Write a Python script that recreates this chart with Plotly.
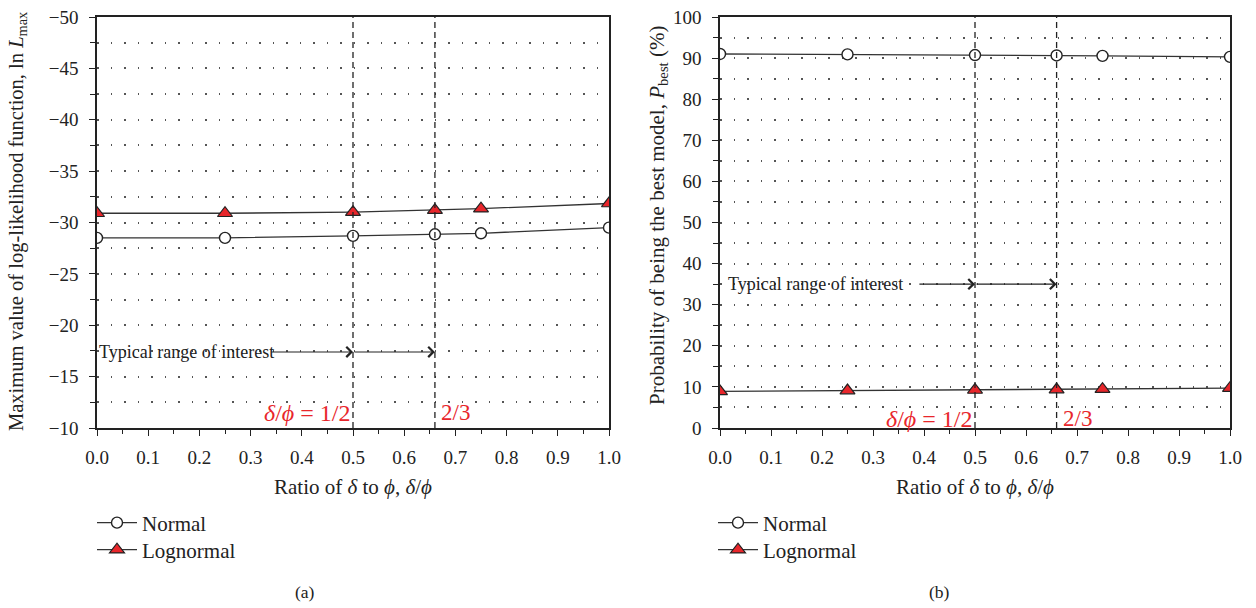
import plotly.graph_objects as go

# ---------------- data ----------------
ratio = [0.0, 0.25, 0.5, 0.66, 0.75, 1.0]
lnL_normal = [-28.5, -28.5, -28.7, -28.85, -28.95, -29.5]
lnL_lognormal = [-30.9, -30.9, -31.0, -31.2, -31.35, -31.85]
p_normal = [91.0, 90.9, 90.75, 90.65, 90.55, 90.3]
p_lognormal = [8.9, 9.1, 9.25, 9.35, 9.45, 9.7]
x_ticks = [0.0, 0.1, 0.2, 0.3, 0.4, 0.5, 0.6, 0.7, 0.8, 0.9, 1.0]
ref_lines = [0.5, 0.66]

W, H = 1256, 608
FONT = "Liberation Serif"
RED = "#e8262b"
LINE = "#333333"
TXT = "#222222"

def px(x):
    return x / W

def py(y):
    return 1 - y / H

fig = go.Figure()

def add_series(xa, ya, yn, yl, leg_n, leg_l):
    fig.add_trace(go.Scatter(
        x=ratio, y=yn, mode="lines+markers", name="Normal",
        xaxis=xa, yaxis=ya, legend=leg_n,
        line=dict(color=LINE, width=1.3),
        marker=dict(symbol="circle", size=11, color="white",
                    line=dict(color=TXT, width=1.4)),
    ))
    fig.add_trace(go.Scatter(
        x=ratio, y=yl, mode="lines+markers", name="Lognormal",
        xaxis=xa, yaxis=ya, legend=leg_l,
        line=dict(color=LINE, width=1.3),
        marker=dict(symbol="triangle-up", size=13, color=RED,
                    line=dict(color=TXT, width=1.2)),
    ))

add_series("x", "y", lnL_normal, lnL_lognormal, "legend", "legend2")
add_series("x2", "y2", p_normal, p_lognormal, "legend3", "legend4")

tickfont = dict(family=FONT, size=19, color=TXT)

def xaxis(domain, anchor):
    return dict(
        domain=domain, anchor=anchor, range=[0, 1],
        tickvals=x_ticks, ticktext=[f"{v:.1f}" for v in x_ticks],
        ticks="outside", ticklen=6, tickwidth=1.3, tickcolor=TXT,
        minor=dict(dtick=0.05, tick0=0, ticks="outside", ticklen=4,
                   tickwidth=1.2, tickcolor=TXT),
        showline=True, linecolor=TXT, linewidth=1.5, mirror=True,
        showgrid=False, zeroline=False, tickfont=tickfont,
        ticklabelstandoff=5, automargin=False,
    )

def yaxis(domain, anchor, rng, dtick, mdt):
    return dict(
        domain=domain, anchor=anchor, range=rng, dtick=dtick,
        ticks="outside", ticklen=6, tickwidth=1.3, tickcolor=TXT,
        showline=True, linecolor=TXT, linewidth=1.5, mirror=True,
        showgrid=True, gridcolor="#555", gridwidth=1.5, griddash="1.5px,12px",
        minor=dict(dtick=mdt, ticks="outside", ticklen=5, tickwidth=1.2,
                   tickcolor=TXT, showgrid=True, gridcolor="#555",
                   gridwidth=1.5, griddash="1.5px,12px"),
        zeroline=False, tickfont=tickfont, ticklabelstandoff=7,
        automargin=False,
    )

def leg(x, ycenter):
    return dict(x=px(x), y=py(ycenter), xanchor="left", yanchor="middle",
                font=dict(family=FONT, size=21, color=TXT),
                bgcolor="rgba(0,0,0,0)", itemwidth=40,
                borderwidth=0)

ydom = [py(428), py(17)]
fig.update_layout(
    width=W, height=H,
    margin=dict(l=0, r=0, t=0, b=0, autoexpand=False),
    paper_bgcolor="white", plot_bgcolor="white",
    font=dict(family=FONT, color=TXT),
    xaxis=xaxis([px(97), px(609)], "y"),
    yaxis=yaxis(ydom, "x", [-10, -50], 5, 2.5),
    xaxis2=xaxis([px(720), px(1230)], "y2"),
    yaxis2=yaxis(ydom, "x2", [0, 100], 10, 5),
    showlegend=True,
    legend=leg(92, 523),
    legend2=leg(92, 550),
    legend3=leg(713, 523),
    legend4=leg(713, 550),
)

shapes = []
for xr, yr in (("x", "y"), ("x2", "y2")):
    for v in ref_lines:
        shapes.append(dict(type="line", xref=xr, yref=f"{yr} domain",
                           x0=v, x1=v, y0=0, y1=1,
                           line=dict(color=TXT, width=1.3, dash="6px,4px")))
fig.update_layout(shapes=shapes)

ann = []

def paper_text(text, x, y, size, angle=0, color=TXT):
    ann.append(dict(text=text, x=px(x), y=py(y), xref="paper", yref="paper",
                    xanchor="center", yanchor="middle", textangle=angle,
                    showarrow=False, font=dict(family=FONT, size=size, color=color)))

# axis titles
xtitle = "Ratio of <i>δ</i> to <i>ϕ</i>, <i>δ</i>/<i>ϕ</i>"
paper_text(xtitle, 353, 487, 21)
paper_text(xtitle, 975, 487, 21)
paper_text("Maximum value of log-likelihood function, ln <i>L</i><sub>max</sub>",
           18, 222, 20.5, angle=-90)
paper_text("Probability of being the best model, <i>P</i><sub>best</sub> (%)",
           658, 216, 21, angle=-90)
# captions
paper_text("(a)", 305, 592, 17.5)
paper_text("(b)", 940, 592, 17.5)

# typical range annotations
def typical(xr, yr, tx, ty, a0):
    ann.append(dict(text="Typical range of interest", x=tx, y=ty, xref=xr, yref=yr,
                    xanchor="left", yanchor="middle", showarrow=False,
                    font=dict(family=FONT, size=18, color=TXT)))
    for s, e in ((a0, ref_lines[0]), (ref_lines[0], ref_lines[1])):
        ann.append(dict(text="", x=e, y=ty, ax=s, ay=ty, xref=xr, yref=yr,
                        axref=xr, ayref=yr, showarrow=True, arrowhead=4,
                        arrowsize=1.8, arrowwidth=1.1, arrowcolor=TXT,
                        standoff=0, startstandoff=0))

typical("x", "y", 0.0, -17.4, 0.338)
typical("x2", "y2", 0.012, 35, 0.388)

# red ratio labels
def red(xr, yr, yv):
    ann.append(dict(text="<i>δ</i>/<i>ϕ</i> = 1/2", x=ref_lines[0], y=yv, xref=xr, yref=yr,
                    xanchor="right", yanchor="middle", xshift=-1, showarrow=False,
                    font=dict(family=FONT, size=24, color=RED)))
    ann.append(dict(text="2/3", x=ref_lines[1], y=yv, xref=xr, yref=yr,
                    xanchor="left", yanchor="middle", xshift=4, showarrow=False,
                    font=dict(family=FONT, size=23, color=RED)))

red("x", "y", -11.5)
red("x2", "y2", 2.2)

fig.update_layout(annotations=ann)
fig.write_html("out.html")
